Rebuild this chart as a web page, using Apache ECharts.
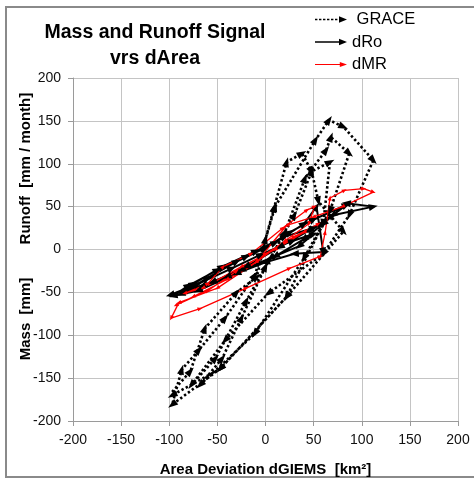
<!DOCTYPE html>
<html>
<head>
<meta charset="utf-8">
<script src="https://cdn.jsdelivr.net/npm/echarts@6/dist/echarts.min.js"></script>
<style>
html,body{margin:0;padding:0;background:#fff;}
#chart{width:474px;height:479px;}
</style>
</head>
<body>
<div id="chart"></div>
<script>
// ---- data ----
var xTicks = [-200, 200, 50];   // min, max, interval
var yTicks = [-200, 200, 50];

var seriesNames = ['GRACE', 'dRo', 'dMR'];

var graceData = [
  [-97,-166],[-78,-142],[-63,-92],[-30,-50],[-9,-32],[0,12],[9,49],[22,102],[38,112],[48,91],[55,56],[81,21],[22,-55],[-47,-139],[-97,-181],
  [-87,-140],[-69,-117],[-42,-80],[-11,-30],[10,50],[52,128],[66,151],[81,143],[112,104],[87,40],[60,-5],[3,-51],[-42,-106],[-77,-158],
  [-52,-127],[-20,-60],[20,20],[41,83],[63,116],[68,131],[87,112],[67,45],[40,-10],[-11,-98],[-68,-158],
  [-45,-127],[-25,-80],[0,-20],[30,40],[48,91],[67,102],[60,30],[22,-55],[-47,-139],[-97,-170]
];

var dRoData = [
  [-99,-55],[-75,-40],[-45,-20],[-10,-2],[20,15],[50,25],[70,40],[112,50],[84,54],[60,30],[40,12],[10,-8],[-30,-28],[-70,-48],[-96,-54],
  [-80,-42],[-50,-24],[-20,-8],[10,8],[40,30],[53,50],[60,-3],[30,-5],[0,-15],[-40,-32],[-88,-52],
  [-60,-33],[-30,-14],[0,2],[25,20],[50,35],[84,52],[70,40],[45,22],[15,3],[-20,-20],[-55,-38],[-99,-53],
  [-70,-40],[-35,-22],[-5,-6],[28,10],[50,18],[35,4],[5,-10],[-25,-24],[-65,-42]
];

var dMRData = [
  [-84,-51],[-60,-40],[-44,-20],[-15,-5],[18,25],[43,46],[51,50],[45,30],[20,10],[-10,-15],[-50,-45],[-90,-62],[-98,-80],[-68,-69],[-20,-45],[25,-22],[57,-8],[62,20],[67,60],[82,69],[102,71],[112,67],[80,50],[50,38],[22,28],[-9,-14],[-40,-35],[-75,-55],[-93,-65],[-60,-48],[-30,-25],[0,-5],[30,15],[55,30],[40,20],[10,0],[-25,-20],[-65,-45],[-84,-51]
];

var titleText = 'Mass and Runoff Signal\nvrs dArea';
var xName = 'Area Deviation dGIEMS  [km²]';
var yName = 'Mass  [mm]        Runoff  [mm / month]';

// ---- chart ----
var FONT = 'Liberation Sans, Arial, sans-serif';
var chart = echarts.init(document.getElementById('chart'), null, {renderer: 'canvas'});

var iconDotted = 'path://M0,4h3v2h-3z M5,4h3v2h-3z M10,4h3v2h-3z M15,4h3v2h-3z M20,4h3v2h-3z M25,4h3v2h-3z M30,1L40,5L30,9z';
var iconSolid = 'path://M0,4h32v2h-32z M30,1L40,5L30,9z';
var iconThin = 'path://M0,4.4h32v1.2h-32z M31,2L40,5L31,8z';

function makeSeries(name, data, color, lineStyle, symSize) {
  return {
    name: name,
    type: 'line',
    data: data.map(function (p) { return p.slice(); }),
    symbol: 'triangle',
    symbolSize: symSize,
    showSymbol: true,
    showAllSymbol: true,
    smooth: false,
    lineStyle: lineStyle,
    itemStyle: {color: color, borderWidth: 0},
    emphasis: {disabled: true},
    animation: false
  };
}

var option = {
  animation: false,
  backgroundColor: '#ffffff',
  title: {
    text: titleText,
    left: 150,
    top: 15,
    textAlign: 'center',
    textStyle: {fontFamily: FONT, fontSize: 19.5, fontWeight: 'bold', color: '#000', lineHeight: 26}
  },
  legend: {
    orient: 'vertical',
    left: 310,
    top: 6,
    itemWidth: 32,
    itemHeight: 9,
    itemGap: 5.5,
    selectedMode: false,
    data: [
      {name: 'GRACE', icon: iconDotted},
      {name: 'dRo', icon: iconSolid},
      {name: 'dMR', icon: iconThin}
    ],
    formatter: function (n) { return n === 'GRACE' ? ' GRACE' : n; },
    textStyle: {fontFamily: FONT, fontSize: 16.5, color: '#000'}
  },
  graphic: [{
    type: 'rect',
    shape: {x: 6, y: 7, width: 480, height: 470},
    style: {fill: 'none', stroke: '#8a8a8a', lineWidth: 2},
    silent: true,
    z: -10
  }],
  grid: {left: 73, right: 16, top: 78, bottom: 58, containLabel: false, outerBoundsMode: 'none'},
  xAxis: {
    type: 'value',
    min: xTicks[0], max: xTicks[1], interval: xTicks[2],
    name: xName,
    nameLocation: 'middle',
    nameGap: 41,
    nameMoveOverlap: false,
    nameTextStyle: {fontFamily: FONT, fontSize: 15, fontWeight: 'bold', color: '#000'},
    axisLine: {show: true, onZero: false, lineStyle: {color: '#9a9a9a', width: 1}},
    axisTick: {show: true, inside: false, length: 5, lineStyle: {color: '#9a9a9a'}},
    axisLabel: {fontFamily: FONT, fontSize: 14, color: '#111', margin: 12},
    splitLine: {show: true, lineStyle: {color: '#c4c4c4', width: 1}}
  },
  yAxis: {
    type: 'value',
    min: yTicks[0], max: yTicks[1], interval: yTicks[2],
    name: yName,
    nameLocation: 'middle',
    nameGap: 40,
    nameMoveOverlap: false,
    nameRotate: 90,
    nameTextStyle: {fontFamily: FONT, fontSize: 15, fontWeight: 'bold', color: '#000', padding: [0, 0, 0, 46]},
    axisLine: {show: true, onZero: false, lineStyle: {color: '#9a9a9a', width: 1}},
    axisTick: {show: true, inside: false, length: 5, lineStyle: {color: '#9a9a9a'}},
    axisLabel: {fontFamily: FONT, fontSize: 14, color: '#111', margin: 12},
    splitLine: {show: true, lineStyle: {color: '#c4c4c4', width: 1}}
  },
  series: [
    makeSeries('GRACE', graceData, '#000000', {color: '#000', width: 2.6, type: [2.4, 2.4]}, [7, 10]),
    makeSeries('dRo', dRoData, '#000000', {color: '#000', width: 2}, [7, 9]),
    makeSeries('dMR', dMRData, '#ff0000', {color: '#ff0000', width: 1.3}, [4, 5])
  ]
};

chart.setOption(option);

// orient the arrow heads along each segment, using the axes' own pixel mapping
function orient(data) {
  var px = data.map(function (p) { return chart.convertToPixel({gridIndex: 0}, p); });
  return data.map(function (p, i) {
    if (i === 0) return {value: p.slice(), symbol: 'none'};
    var dx = px[i][0] - px[i - 1][0];
    var dy = px[i][1] - px[i - 1][1];
    var ang = Math.atan2(-dy, dx) * 180 / Math.PI;
    return {value: p.slice(), symbolRotate: ang - 90};
  });
}

chart.setOption({
  series: [
    {name: 'GRACE', data: orient(graceData)},
    {name: 'dRo', data: orient(dRoData)},
    {name: 'dMR', data: orient(dMRData)}
  ]
});
</script>
</body>
</html>
